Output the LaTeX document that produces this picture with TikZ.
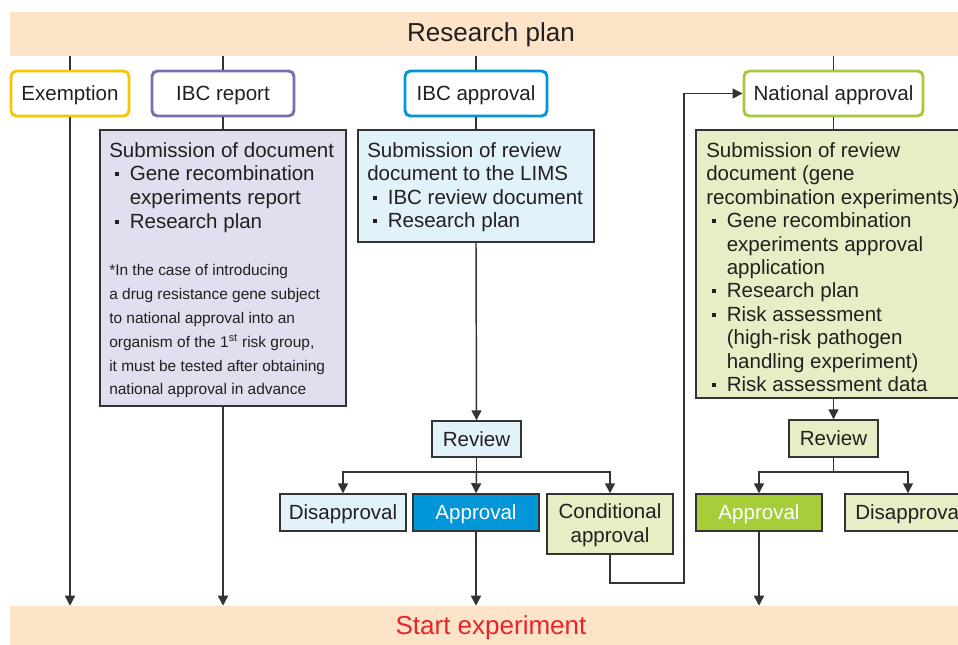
\documentclass[tikz,border=0pt]{standalone}
\usepackage{fontspec}
\setmainfont{Liberation Sans}
\usetikzlibrary{arrows.meta,fit}
\definecolor{peach}{HTML}{FDE3C8}
\definecolor{yel}{HTML}{F8C500}
\definecolor{purp}{HTML}{7A6EB3}
\definecolor{blu}{HTML}{0096D7}
\definecolor{grn}{HTML}{A4C93C}
\definecolor{grnfill}{HTML}{A5CE39}
\definecolor{lav}{HTML}{E1DFEF}
\definecolor{lblue}{HTML}{E1F2FA}
\definecolor{lgreen}{HTML}{E6EEC5}
\definecolor{edge}{HTML}{333333}
\definecolor{txt}{HTML}{231F20}
\definecolor{redtxt}{HTML}{E8232A}
\newcommand\bul{\makebox[1em][l]{\hspace{0.3em}\raisebox{0.22em}{\rule{3pt}{3pt}}}}
\newcommand\fsmain{\fontsize{15.4pt}{17.6pt}\selectfont}
\newcommand\fsdoc{\fontsize{15.4pt}{17.8pt}\selectfont}
\newcommand\fssmall{\fontsize{11.6pt}{17.85pt}\selectfont}
\newcommand\fsbig{\fontsize{19.5pt}{22pt}\selectfont}
\begin{document}
\begin{tikzpicture}[x=0.75pt,y=-0.75pt,
  topbox/.style={draw, line width=2.2pt, rounded corners=4pt, fill=white, inner sep=0pt},
  bar/.style={fill=peach, inner sep=0pt},
  docbox/.style={draw=edge, line width=1.1pt, inner sep=0pt},
  smallbox/.style={draw=edge, line width=1.1pt, inner sep=0pt},
  lbl/.style={inner sep=0pt, font=\fsmain, text=txt, text height=11.03pt, text depth=0pt},
  mlbl/.style={inner sep=0pt, font=\fsmain, text=txt, align=center},
  biglbl/.style={inner sep=0pt, font=\fsbig, text height=13.96pt, text depth=0pt},
  conn/.style={line width=1.1pt, draw=edge},
  arr/.style={conn, -{Triangle[length=7.5pt,width=7.5pt]}},
  doctext/.style={anchor=north west, inner sep=0pt, align=left, font=\fsmain, text=txt}]
\useasboundingbox (0,0) rectangle (958,644);
\clip (0,0) rectangle (958,644);

% bars
\node[bar, fit={(10,12)(970,56)}] (plan) {};
\node[biglbl, text=txt] (plantext) at (491,31.7) {Research plan};
\node[bar, fit={(10,606)(970,649)}] (start) {};
\node[biglbl, text=redtxt] (starttext) at (491,625) {Start experiment};

% top boxes
\node[topbox, draw=yel, fit={(11,71)(129,116)}] (exempt) {};
\node[lbl] at (exempt.center) {Exemption};
\node[topbox, draw=purp, fit={(152,71)(294,116)}] (ibcrep) {};
\node[lbl] at (ibcrep.center) {IBC report};
\node[topbox, draw=blu, fit={(405,71)(547,116)}] (ibcapp) {};
\node[lbl] at (ibcapp.center) {IBC approval};
\node[topbox, draw=grn, fit={(744,71)(923,116)}] (natl) {};
\node[lbl] at (natl.center) {National approval};

% document boxes
\node[docbox, fill=lav, fit={(100,130)(346,406)}] (ibcdoc) {};
\node[doctext, font=\fsdoc] (ibctext) at (109,142) {Submission of document\\
\bul Gene recombination\\
\hspace*{1em}experiments report\\
\bul Research plan};
\node[doctext, font=\fssmall] (ibcnote) at (109,264.5) {*In the case of introducing\\
a drug resistance gene subject\\
to national approval into an\\
organism of the 1\textsuperscript{st} risk group,\\
it must be tested after obtaining\\
national approval in advance};

\node[docbox, fill=lblue, fit={(358,130)(594,242)}] (limsdoc) {};
\node[doctext] (limstext) at (367,142) {Submission of review\\
document to the LIMS\\
\bul IBC review document\\
\bul Research plan};

\node[docbox, fill=lgreen, fit={(696,130)(971,398)}] (natdoc) {};
\node[doctext] (nattext) at (706,142) {Submission of review\\
document (gene\\
recombination experiments)\\
\bul Gene recombination\\
\hspace*{1em}experiments approval\\
\hspace*{1em}application\\
\bul Research plan\\
\bul Risk assessment\\
\hspace*{1em}(high-risk pathogen\\
\hspace*{1em}handling experiment)\\
\bul Risk assessment data};

% IBC review branch
\node[smallbox, fill=lblue, fit={(432,421)(521,457)}] (rev1) {};
\node[lbl] at (rev1.center) {Review};
\node[smallbox, fill=lblue, fit={(280,494)(406,531)}] (dis1) {};
\node[lbl] at (dis1.center) {Disapproval};
\node[smallbox, fill=blu, fit={(413,494)(539,531)}] (app1) {};
\node[lbl, text=white] at (app1.center) {Approval};
\node[smallbox, fill=lgreen, fit={(547,494)(673,554)}] (cond) {};
\node[mlbl] at ([yshift=-0.75pt]cond.center) {Conditional\\approval};

% national review branch
\node[smallbox, fill=lgreen, fit={(789,420)(878,457)}] (rev2) {};
\node[lbl] at (rev2.center) {Review};
\node[smallbox, fill=grnfill, fit={(696,494)(822,531)}] (app2) {};
\node[lbl, text=white] at (app2.center) {Approval};
\node[smallbox, fill=lgreen, fit={(845,494)(971,531)}] (dis2) {};
\node[lbl, anchor=west] at (dis2.west -| 855,0) {Disapproval};

\coordinate (br1) at (476.5,472);
\coordinate (br2) at (833.5,472);
\coordinate (bend) at (684,583);

% connectors from plan
\draw[conn] (exempt.north |- plan.south) -- (exempt.north);
\draw[conn] (ibcrep.north |- plan.south) -- (ibcrep.north);
\draw[conn] (ibcapp.north |- plan.south) -- (ibcapp.north);
\draw[conn] (natl.north |- plan.south) -- (natl.north);

\draw[conn] (ibcrep.south) -- (ibcdoc.north);
\draw[conn] (ibcapp.south) -- (limsdoc.north);
\draw[conn] (natl.south) -- (natdoc.north);

\draw[arr] (exempt.south) -- (exempt.south |- start.north);
\draw[arr] (ibcdoc.south) -- (ibcdoc.south |- start.north);

\draw[arr] (limsdoc.south) -- (rev1.north);
\draw[conn] (rev1.south) -- (br1);
\draw[arr] (br1) -| (dis1.north);
\draw[arr] (br1) -- (app1.north);
\draw[arr] (br1) -| (cond.north);
\draw[arr] (app1.south) -- (app1.south |- start.north);
\draw[arr] (cond.south) |- (bend) |- (natl.west);

\draw[arr] (natdoc.south) -- (rev2.north);
\draw[conn] (rev2.south) -- (br2);
\draw[arr] (br2) -| (app2.north);
\draw[arr] (br2) -| (dis2.north);
\draw[arr] (app2.south) -- (app2.south |- start.north);
\end{tikzpicture}
\end{document}
